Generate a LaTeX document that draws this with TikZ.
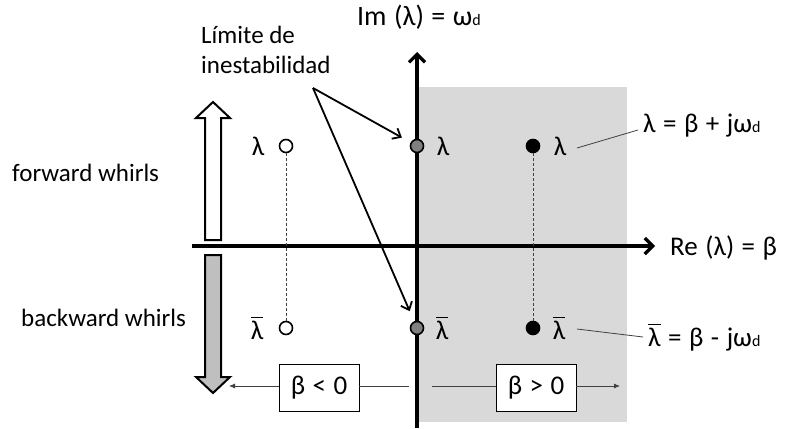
\documentclass[tikz,border=0pt]{standalone}
\usepackage{amsmath}
\usepackage{fontspec}
\setmainfont{Carlito}
\usetikzlibrary{arrows.meta, calc}
\definecolor{planegray}{HTML}{D9D9D9}
\definecolor{midgray}{HTML}{808080}
\definecolor{arrgray}{HTML}{BFBFBF}
\definecolor{leadgray}{HTML}{404040}
\newcommand{\omd}{ω{\fontsize{16}{16}\selectfont d}}
\newcommand{\lbar}{\(\overline{\text{λ}}\)}
\newcommand{\widesp}{\spaceskip 7.5pt plus 1pt\relax}

\begin{document}
\begin{tikzpicture}[x=1pt, y=-1pt, font=\fontsize{25}{30}\selectfont,
  pt/.style={circle, draw, line width=1.6pt, minimum size=13pt, inner sep=0pt},
  lbl/.style={inner sep=0pt, anchor=base,
    font=\fontsize{27}{30}\selectfont\widesp},
  betabox/.style={draw, line width=0.8pt, fill=white, minimum width=80pt,
    minimum height=47pt, inner sep=0pt, font=\fontsize{27}{30}\selectfont\widesp},
  axis/.style={line width=3.2pt, -{Straight Barb[length=8pt, width=16pt]}},
  callarr/.style={line width=1.8pt, -{Straight Barb[length=7pt, width=12pt]}},
  leader/.style={leadgray, line width=0.8pt},
  blockarr/.style={line width=2pt, line join=miter}]

\useasboundingbox (0,0) rectangle (786,428);

% Unstable half plane
\fill[planegray] (417,87) rectangle (627,422);

% Axes
\coordinate (xstart) at (192,246);
\coordinate (xend) at (655,246);
\coordinate (ystart) at (417,428);
\coordinate (yend) at (417,52);
\draw[axis] (xstart) -- (xend);
\draw[axis] (ystart) -- (yend);
\node[lbl, font=\fontsize{28}{30}\selectfont\widesp] (imlab) at (419,26) {Im (λ) = \omd};
\node[lbl, anchor=base west] (relab) at (670,255) {Re (λ) = β};

% Whirl arrows
\draw[blockarr, fill=white] (205,240) -- (205,118) -- (196,118) -- (213,102)
  -- (230,118) -- (221,118) -- (221,240) -- cycle;
\draw[blockarr, fill=arrgray] (205,255) -- (205,377) -- (196,377) -- (213,393)
  -- (230,377) -- (221,377) -- (221,255) -- cycle;
\node[anchor=base west, inner sep=0pt] (fwd) at (12,181) {forward whirls};
\node[anchor=base west, inner sep=0pt] (bwd) at (21,326) {backward whirls};

% Eigenvalue pairs
\node[pt, fill=white] (sU) at (286,146) {};
\node[pt, fill=white] (sL) at (286,328) {};
\node[pt, fill=black] (uU) at (533,146) {};
\node[pt, fill=black] (uL) at (533,328) {};
\draw[leadgray, line width=0.8pt, dash pattern=on 3pt off 2pt] (sU) -- (sL);
\draw[leadgray, line width=0.8pt, dash pattern=on 3pt off 2pt] (uU) -- (uL);
\node[pt, fill=midgray] (gU) at (417,146) {};
\node[pt, fill=midgray] (gL) at (417,328) {};

% Labels of the poles
\node[lbl] (sUlab) at (258,155) {λ};
\node[lbl] (sLlab) at (257,339) {\lbar};
\node[lbl] (gUlab) at (443,155) {λ};
\node[lbl] (gLlab) at (442,339) {\lbar};
\node[lbl] (uUlab) at (560,155) {λ};
\node[lbl] (uLlab) at (559,339) {\lbar};

% Formulas
\node[lbl, anchor=base west] (formU) at (643,132) {λ = β + j\omd};
\node[lbl, anchor=base west] (formL) at (648,346) {\lbar{} = β - j\omd};
\coordinate (fU) at (638,130);
\coordinate (fL) at (643,337);
\draw[leader] (577,148) -- (fU);
\draw[leader] (577,329) -- (fL);

% Stability limit
\node[anchor=west, align=left, inner sep=0pt] (limite) at (201,50)
  {Límite de\\inestabilidad};
\coordinate (callout) at (313,88);
\draw[callarr, shorten >=10pt] (callout) -- (gU);
\draw[callarr, shorten >=11pt] (callout) -- (gL);

% Sign of beta
\node[betabox] (betaN) at (319,388) {β < 0};
\node[betabox] (betaP) at (536,388) {β > 0};
\coordinate (nL) at (229,386);
\coordinate (nR) at (409,386);
\coordinate (pL) at (432,386);
\coordinate (pR) at (620,386);
\draw[leader, -{Latex[length=6pt, width=5pt]}] (betaN.west |- nL) -- (nL);
\draw[leader] (betaN.east |- nR) -- (nR);
\draw[leader] (pL) -- (betaP.west |- pL);
\draw[leader, -{Latex[length=6pt, width=5pt]}] (betaP.east |- pR) -- (pR);

\end{tikzpicture}
\end{document}
